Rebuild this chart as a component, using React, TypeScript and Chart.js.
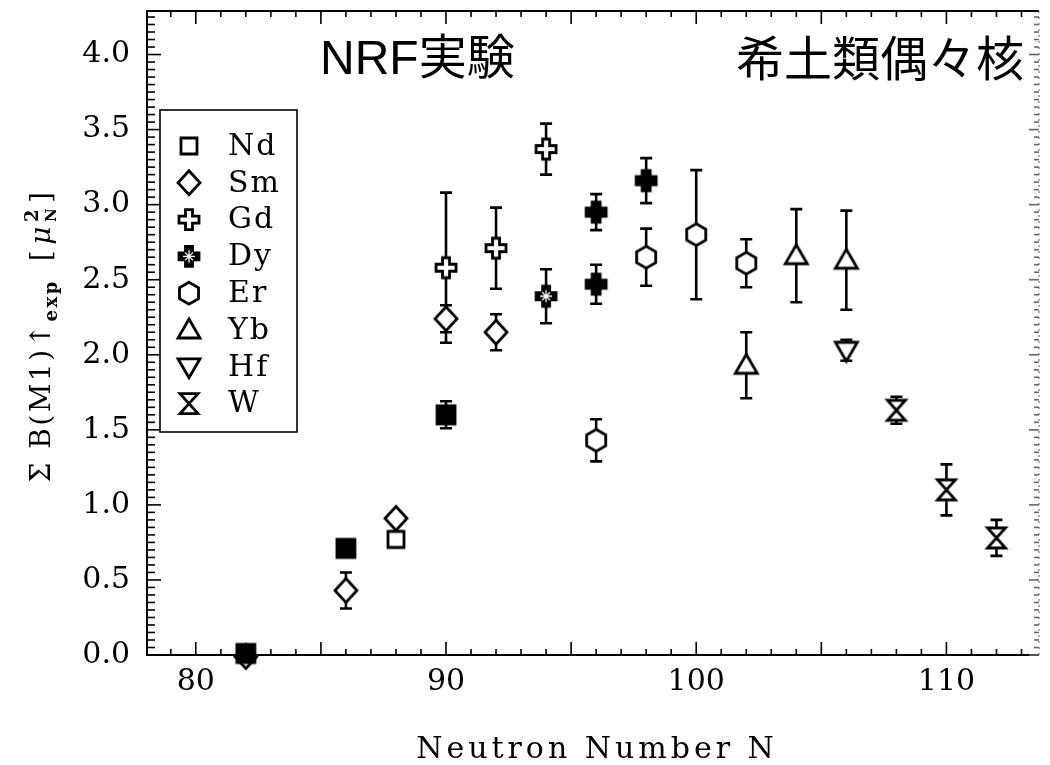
import React, { useEffect, useRef } from 'react';
import { Chart, registerables } from 'chart.js';
Chart.register(...registerables);

// ---------- data ----------
const xTickValues = [80, 90, 100, 110];
const yTickValues = [0, 0.5, 1, 1.5, 2, 2.5, 3, 3.5, 4];
const yTickLabels = ['0.0', '0.5', '1.0', '1.5', '2.0', '2.5', '3.0', '3.5', '4.0'];

const ndN = [88];
const ndB = [0.77];
const ndErr = [0.05];

const ndFilledN = [82, 86, 90];
const ndFilledB = [0.01, 0.71, 1.6];
const ndFilledErr = [0, 0, 0.09];

const smN = [82, 86, 88, 90, 92];
const smB = [-0.01, 0.43, 0.91, 2.24, 2.15];
const smErr = [0, 0.12, 0, 0.09, 0.12];

const gdN = [90, 92, 94];
const gdB = [2.58, 2.71, 3.37];
const gdErr = [0.5, 0.27, 0.17];

const dyN = [94];
const dyB = [2.39];
const dyErr = [0.18];

const dyFilledN = [96, 96, 98];
const dyFilledB = [2.95, 2.47, 3.16];
const dyFilledErr = [0.12, 0.13, 0.15];

const erN = [96, 98, 100, 102];
const erB = [1.43, 2.65, 2.8, 2.61];
const erErr = [0.14, 0.19, 0.43, 0.16];

const ybN = [102, 104, 106];
const ybB = [1.93, 2.66, 2.63];
const ybErr = [0.22, 0.31, 0.33];

const hfN = [106];
const hfB = [2.03];
const hfErr = [0.07];

const wN = [108, 110, 112];
const wB = [1.63, 1.1, 0.78];
const wErr = [0.09, 0.17, 0.12];

const legendLabels = ['Nd', 'Sm', 'Gd', 'Dy', 'Er', 'Yb', 'Hf', 'W'];
const legendSymbols = ['square', 'diamond', 'cross', 'crossStar', 'hexagon', 'triUp', 'triDown', 'hourglass'];

const titleLeft = 'NRF実験';
const titleRight = '希土類偶々核';
const xTitle = 'Neutron Number N';
const yTitleMain = 'Σ B(M1)↑';
const yTitleSub = 'exp';
const yTitleUnitOpen = '[';
const yTitleMu = 'μ';
const yTitleMuSub = 'N';
const yTitleMuSup = '2';
const yTitleUnitClose = ']';

// ---------- symbols ----------
function drawSymbol(ctx: CanvasRenderingContext2D, kind: string, cx: number, cy: number) {
  ctx.save();
  ctx.lineWidth = 2.8;
  ctx.strokeStyle = '#000';
  ctx.fillStyle = '#fff';
  ctx.lineJoin = 'miter';
  ctx.beginPath();
  const crossPath = (r: number, a: number) => {
    ctx.moveTo(cx - a, cy - r);
    ctx.lineTo(cx + a, cy - r);
    ctx.lineTo(cx + a, cy - a);
    ctx.lineTo(cx + r, cy - a);
    ctx.lineTo(cx + r, cy + a);
    ctx.lineTo(cx + a, cy + a);
    ctx.lineTo(cx + a, cy + r);
    ctx.lineTo(cx - a, cy + r);
    ctx.lineTo(cx - a, cy + a);
    ctx.lineTo(cx - r, cy + a);
    ctx.lineTo(cx - r, cy - a);
    ctx.lineTo(cx - a, cy - a);
    ctx.closePath();
  };
  switch (kind) {
    case 'square':
      ctx.rect(cx - 8, cy - 8, 16, 16);
      ctx.fill();
      ctx.stroke();
      break;
    case 'squareFilled':
      ctx.fillStyle = '#000';
      ctx.rect(cx - 9, cy - 9, 18, 18);
      ctx.fill();
      ctx.stroke();
      break;
    case 'diamond':
      ctx.moveTo(cx, cy - 12);
      ctx.lineTo(cx + 11, cy);
      ctx.lineTo(cx, cy + 12);
      ctx.lineTo(cx - 11, cy);
      ctx.closePath();
      ctx.fill();
      ctx.stroke();
      break;
    case 'cross':
      crossPath(10, 3.5);
      ctx.fill();
      ctx.stroke();
      break;
    case 'crossFilled':
      crossPath(10, 4);
      ctx.fillStyle = '#000';
      ctx.fill();
      ctx.stroke();
      break;
    case 'crossStar':
      crossPath(10, 3.5);
      ctx.fillStyle = '#000';
      ctx.fill();
      ctx.stroke();
      ctx.beginPath();
      ctx.strokeStyle = '#fff';
      ctx.lineWidth = 1.3;
      ctx.moveTo(cx - 4, cy - 4); ctx.lineTo(cx + 4, cy + 4);
      ctx.moveTo(cx + 4, cy - 4); ctx.lineTo(cx - 4, cy + 4);
      ctx.moveTo(cx, cy - 6); ctx.lineTo(cx, cy + 6);
      ctx.moveTo(cx - 6, cy); ctx.lineTo(cx + 6, cy);
      ctx.stroke();
      break;
    case 'hexagon': {
      const r = 11;
      for (let k = 0; k < 6; k++) {
        const ang = -Math.PI / 2 + (k * Math.PI) / 3;
        const px = cx + r * Math.cos(ang);
        const py = cy + r * Math.sin(ang);
        if (k === 0) ctx.moveTo(px, py);
        else ctx.lineTo(px, py);
      }
      ctx.closePath();
      ctx.fill();
      ctx.stroke();
      break;
    }
    case 'triUp':
      ctx.moveTo(cx, cy - 11);
      ctx.lineTo(cx + 11, cy + 8);
      ctx.lineTo(cx - 11, cy + 8);
      ctx.closePath();
      ctx.fill();
      ctx.stroke();
      break;
    case 'triDown':
      ctx.moveTo(cx, cy + 11);
      ctx.lineTo(cx + 11, cy - 8);
      ctx.lineTo(cx - 11, cy - 8);
      ctx.closePath();
      ctx.fill();
      ctx.stroke();
      break;
    case 'hourglass':
      ctx.moveTo(cx - 9, cy - 10);
      ctx.lineTo(cx + 9, cy - 10);
      ctx.lineTo(cx - 9, cy + 10);
      ctx.lineTo(cx + 9, cy + 10);
      ctx.closePath();
      ctx.fill();
      ctx.stroke();
      break;
  }
  ctx.restore();
}

function makeSymbolImage(kind: string): HTMLCanvasElement {
  const c = document.createElement('canvas');
  c.width = 32;
  c.height = 32;
  const g = c.getContext('2d')!;
  drawSymbol(g, kind, 16, 16);
  return c;
}

const SERIF = '"DejaVu Serif", "Liberation Serif", serif';

// ---------- plugins ----------
const framePlugin = {
  id: 'frame',
  beforeDatasetsDraw(chart: any) {
    const { ctx, chartArea: a, scales } = chart;
    const x = scales.x;
    const y = scales.y;
    ctx.save();
    ctx.strokeStyle = '#000';
    ctx.lineWidth = 2;
    ctx.beginPath();
    ctx.moveTo(a.right, a.top);
    ctx.lineTo(a.left, a.top);
    ctx.lineTo(a.left, a.bottom);
    ctx.lineTo(a.right, a.bottom);
    ctx.stroke();
    // right edge (faint)
    ctx.strokeStyle = '#777';
    ctx.lineWidth = 1.2;
    ctx.setLineDash([2, 4]);
    ctx.beginPath();
    ctx.moveTo(a.right, a.top);
    ctx.lineTo(a.right, a.bottom);
    ctx.stroke();
    ctx.setLineDash([]);
    // y ticks
    ctx.lineWidth = 1.6;
    for (let i = 0; i * 0.05 <= y.max + 1e-9; i++) {
      const py = y.getPixelForValue(i * 0.05);
      const major = i % 10 === 0;
      const len = major ? 14 : 8;
      ctx.strokeStyle = '#000';
      ctx.beginPath();
      ctx.moveTo(a.left, py);
      ctx.lineTo(a.left + len, py);
      ctx.stroke();
      ctx.strokeStyle = '#666';
      ctx.beginPath();
      ctx.moveTo(a.right, py);
      ctx.lineTo(a.right - (major ? 10 : 5), py);
      ctx.stroke();
    }
    // x ticks
    ctx.strokeStyle = '#000';
    for (let n = Math.ceil(x.min); n <= x.max; n++) {
      const px = x.getPixelForValue(n);
      const len = n % 5 === 0 ? 13 : 6;
      ctx.beginPath();
      ctx.moveTo(px, a.bottom);
      ctx.lineTo(px, a.bottom - len);
      ctx.moveTo(px, a.top);
      ctx.lineTo(px, a.top + len);
      ctx.stroke();
    }
    // error bars
    ctx.lineWidth = 2.6;
    ctx.strokeStyle = '#000';
    chart.data.datasets.forEach((ds: any) => {
      const errs: number[] = ds.errors || [];
      ds.data.forEach((pt: any, i: number) => {
        const e = errs[i];
        if (!e) return;
        const px = x.getPixelForValue(pt.x);
        const top = y.getPixelForValue(pt.y + e);
        const bot = y.getPixelForValue(pt.y - e);
        ctx.beginPath();
        ctx.moveTo(px, top);
        ctx.lineTo(px, bot);
        ctx.moveTo(px - 6, top);
        ctx.lineTo(px + 6, top);
        ctx.moveTo(px - 6, bot);
        ctx.lineTo(px + 6, bot);
        ctx.stroke();
      });
    });
    ctx.restore();
  },
  afterDraw(chart: any) {
    const { ctx, chartArea: a } = chart;
    ctx.save();
    // titles
    ctx.fillStyle = '#000';
    ctx.textBaseline = 'alphabetic';
    ctx.textAlign = 'left';
    ctx.font = '48px "Liberation Sans", "Noto Sans CJK JP", sans-serif';
    ctx.fillText(titleLeft, 320, 74);
    ctx.font = '48px "Noto Sans CJK JP", sans-serif';
    ctx.fillText(titleRight, 736, 76);

    // x title
    ctx.font = `30px ${SERIF}`;
    ctx.textAlign = 'center';
    (ctx as any).letterSpacing = '4px';
    ctx.fillText(xTitle, (a.left + a.right) / 2 + 4, 758);
    (ctx as any).letterSpacing = '0px';

    // y title (rotated)
    ctx.save();
    ctx.translate(50, 336);
    ctx.rotate(-Math.PI / 2);
    ctx.textAlign = 'left';
    const big = `28px ${SERIF}`;
    const subF = `bold 18px ${SERIF}`;
    const parts: { t: string; f: string; dy: number; stack?: boolean; gap?: number }[] = [
      { t: yTitleMain, f: big, dy: 0 },
      { t: yTitleSub, f: subF, dy: 7, gap: 18 },
      { t: yTitleUnitOpen, f: big, dy: 0, gap: 3 },
      { t: yTitleMu, f: `italic 28px ${SERIF}`, dy: 0, gap: 2 },
      { t: yTitleMuSub, f: `bold 15px ${SERIF}`, dy: 6, stack: true },
      { t: yTitleMuSup, f: `bold 18px ${SERIF}`, dy: -12, gap: 3 },
      { t: yTitleUnitClose, f: big, dy: 0 },
    ];
    (ctx as any).letterSpacing = '2.5px';
    let total = 0;
    const widths: number[] = [];
    parts.forEach((p) => {
      ctx.font = p.f;
      widths.push(ctx.measureText(p.t).width);
    });
    parts.forEach((p, i) => {
      if (p.stack) return;
      const w = i > 0 && parts[i - 1].stack ? Math.max(widths[i], widths[i - 1]) : widths[i];
      total += w + (p.gap || 0);
    });
    let cx = -total / 2;
    parts.forEach((p, i) => {
      ctx.font = p.f;
      ctx.fillText(p.t, cx, p.dy);
      if (p.stack) return;
      const w = i > 0 && parts[i - 1].stack ? Math.max(widths[i], widths[i - 1]) : widths[i];
      cx += w + (p.gap || 0);
    });
    (ctx as any).letterSpacing = '0px';
    ctx.restore();

    // legend
    const bx = 160, by = 110, bw = 137, bh = 322;
    ctx.fillStyle = '#fff';
    ctx.fillRect(bx, by, bw, bh);
    ctx.strokeStyle = '#000';
    ctx.lineWidth = 1.6;
    ctx.strokeRect(bx, by, bw, bh);
    ctx.font = `30px ${SERIF}`;
    ctx.textAlign = 'left';
    ctx.textBaseline = 'middle';
    ctx.fillStyle = '#000';
    legendLabels.forEach((lab, i) => {
      const ry = 146 + i * 36.8;
      drawSymbol(ctx, legendSymbols[i], 189, ry);
      ctx.fillStyle = '#000';
      (ctx as any).letterSpacing = '2px';
      ctx.fillText(lab, 228, ry + 1);
      (ctx as any).letterSpacing = '0px';
    });
    ctx.restore();
  },
};

function toPoints(xs: number[], ys: number[]) {
  return xs.map((v, i) => ({ x: v, y: ys[i] }));
}

export default function App() {
  const ref = useRef<HTMLCanvasElement | null>(null);
  useEffect(() => {
    if (!ref.current) return;
    const mk = (label: string, xs: number[], ys: number[], errs: number[], kind: string) => ({
      label,
      data: toPoints(xs, ys),
      errors: errs,
      pointStyle: makeSymbolImage(kind),
      pointRadius: 10,
      pointHoverRadius: 10,
      showLine: false,
      clip: false,
    });
    const chart = new Chart(ref.current, {
      type: 'scatter',
      data: {
        datasets: [
          mk('Nd', ndN, ndB, ndErr, 'square'),
          mk('Nd*', ndFilledN, ndFilledB, ndFilledErr, 'squareFilled'),
          mk('Sm', smN, smB, smErr, 'diamond'),
          mk('Gd', gdN, gdB, gdErr, 'cross'),
          mk('Dy', dyN, dyB, dyErr, 'crossStar'),
          mk('Dy*', dyFilledN, dyFilledB, dyFilledErr, 'crossFilled'),
          mk('Er', erN, erB, erErr, 'hexagon'),
          mk('Yb', ybN, ybB, ybErr, 'triUp'),
          mk('Hf', hfN, hfB, hfErr, 'triDown'),
          mk('W', wN, wB, wErr, 'hourglass'),
        ] as any,
      },
      options: {
        responsive: false,
        animation: false,
        events: [],
        layout: { padding: { top: 8, right: 2, left: 0, bottom: 0 } },
        plugins: {
          legend: { display: false },
          tooltip: { enabled: false },
          title: { display: false },
        },
        scales: {
          x: {
            type: 'linear',
            min: 78.05,
            max: 113.7,
            grid: { display: false, drawTicks: false },
            border: { display: false },
            afterFit: (s: any) => {
              s.height = 110;
              s.paddingLeft = 0;
              s.paddingRight = 0;
              s.paddingTop = 0;
              s.paddingBottom = 0;
            },
            afterBuildTicks: (s: any) => {
              s.ticks = xTickValues.map((v) => ({ value: v }));
            },
            ticks: {
              padding: 9,
              color: '#000',
              font: { family: SERIF, size: 30 },
              maxRotation: 0,
              callback: (v: any) => String(v),
            },
          },
          y: {
            type: 'linear',
            min: 0,
            max: 4.29,
            grid: { display: false, drawTicks: false },
            border: { display: false },
            afterFit: (s: any) => {
              s.width = 147;
              s.paddingLeft = 0;
              s.paddingRight = 0;
              s.paddingTop = 0;
              s.paddingBottom = 0;
            },
            afterBuildTicks: (s: any) => {
              s.ticks = yTickValues.map((v) => ({ value: v }));
            },
            ticks: {
              padding: 17,
              color: '#000',
              font: { family: SERIF, size: 30 },
              callback: (v: any) => {
                const i = yTickValues.indexOf(Number(v));
                return i >= 0 ? yTickLabels[i] : '';
              },
            },
          },
        },
      },
      plugins: [framePlugin],
    });
    return () => chart.destroy();
  }, []);
  return (
    <div style={{ position: 'absolute', left: 0, top: 0, width: 1050, height: 765, background: '#fff' }}>
      <canvas ref={ref} width={1050} height={765} />
    </div>
  );
}
